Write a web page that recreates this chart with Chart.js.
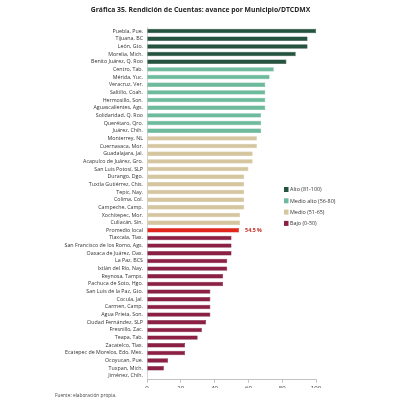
<!DOCTYPE html>
<html><head><meta charset="utf-8">
<script src="https://cdn.jsdelivr.net/npm/chart.js@4"></script>
<style>html,body{margin:0;padding:0;background:#fff}#wrap{width:400px;height:400px}</style>
</head><body><div id="wrap"><canvas id="c" width="400" height="400"></canvas></div>
<script>
const municipios = ["Puebla, Pue.","Tijuana, BC","León, Gto.","Morelia, Mich.","Benito Juárez, Q. Roo","Centro, Tab.","Mérida, Yuc.","Veracruz, Ver.","Saltillo, Coah.","Hermosillo, Son.","Aguascalientes, Ags.","Solidaridad, Q. Roo","Querétaro, Qro.","Juárez, Chih.","Monterrey, NL","Cuernavaca, Mor.","Guadalajara, Jal.","Acapulco de Juárez, Gro.","San Luis Potosí, SLP","Durango, Dgo.","Tuxtla Gutiérrez, Chis.","Tepic, Nay.","Colima, Col.","Campeche, Camp.","Xochitepec, Mor.","Culiacán, Sin.","Promedio local","Tlaxcala, Tlax.","San Francisco de los Romo, Ags.","Oaxaca de Juárez, Oax.","La Paz, BCS","Ixtlán del Río, Nay.","Reynosa, Tamps.","Pachuca de Soto, Hgo.","San Luis de la Paz, Gto.","Cocula, Jal.","Carmen, Camp.","Agua Prieta, Son.","Ciudad Fernández, SLP","Fresnillo, Zac.","Teapa, Tab.","Zacatelco, Tlax.","Ecatepec de Morelos, Edo. Mex.","Ocoyucan, Pue.","Tuxpan, Mich.","Jiménez, Chih."];
const avance = [100,95,95,88,82.5,75,72.5,70,70,70,70,67.5,67.5,67.5,65,65,62.5,62.5,60,57.5,57.5,57.5,57.5,57.5,55,55,54.5,50,50,50,47.5,47.5,45,45,37.5,37.5,37.5,37.5,35,32.5,30,22.5,22.5,12.5,10,0];
// 0 Alto, 1 Medio alto, 2 Medio, 3 Bajo, 4 Promedio
const nivel = [0,0,0,0,0,1,1,1,1,1,1,1,1,1,2,2,2,2,2,2,2,2,2,2,2,2,4,3,3,3,3,3,3,3,3,3,3,3,3,3,3,3,3,3,3,3];
const nivelesLeyenda = ["Alto (81-100)","Medio alto (56-80)","Medio (51-65)","Bajo (0-50)"];
const etiquetaPromedio = "54.5 %";
const xTicks = [0,20,40,60,80,100];
const titulo = "Gráfica 35. Rendición de Cuentas: avance por Municipio/DTCDMX";
const fuente = "Fuente: elaboración propia.";
const colores = ["#24533f","#6dbb9c","#d5c6a0","#8c1f44","#e3261d"];
const bordes = ["#183b2c","#58a487","#c9b98f","#6e1433","#c81d15"];

const FONT = "'Open Sans', 'Noto Sans', sans-serif";

const extras = {
  id: 'extras',
  afterDraw(chart) {
    const ctx = chart.ctx;
    const x = chart.scales.x, y = chart.scales.y;
    ctx.save();
    // title
    ctx.fillStyle = '#222';
    ctx.font = `bold 6.8px ${FONT}`;
    ctx.textAlign = 'center';
    ctx.textBaseline = 'middle';
    ctx.fillText(titulo, 200.5, 10);
    // legend
    const lx = 286, ly0 = 189.5, step = 11.3;
    nivelesLeyenda.forEach((t, i) => {
      const yy = ly0 + i * step;
      ctx.fillStyle = colores[i];
      ctx.fillRect(lx - 2, yy - 2.5, 4.5, 5);
      ctx.fillStyle = '#333';
      ctx.font = `5.4px ${FONT}`;
      ctx.textBaseline = 'middle';
      ctx.textAlign = 'left';
      ctx.fillText(t, lx + 4, yy + 0.3);
    });
    // promedio label
    const pi = nivel.indexOf(4);
    ctx.fillStyle = '#c8261d';
    ctx.font = `bold 5.3px ${FONT}`;
    ctx.textAlign = 'left';
    ctx.textBaseline = 'middle';
    ctx.fillText(etiquetaPromedio, x.getPixelForValue(avance[pi]) + 6, y.getPixelForValue(pi) + 0.3);
    // footnote
    ctx.fillStyle = '#444';
    ctx.font = `4.8px ${FONT}`;
    ctx.fillText(fuente, 55, 396);
    ctx.restore();
  }
};

new Chart(document.getElementById('c'), {
  type: 'bar',
  data: {
    labels: municipios,
    datasets: [{
      data: avance,
      backgroundColor: nivel.map(n => colores[n]),
      borderColor: nivel.map(n => bordes[n]),
      borderWidth: 0.5,
      categoryPercentage: 1,
      barPercentage: 0.58
    }]
  },
  options: {
    indexAxis: 'y',
    responsive: false,
    animation: false,
    devicePixelRatio: 1,
    layout: { padding: { top: 27.25, bottom: 12, left: 0, right: 84 } },
    plugins: {
      legend: { display: false },
      tooltip: { enabled: false },
      title: { display: false }
    },
    scales: {
      x: {
        min: 0, max: 100,
        afterBuildTicks: s => { s.ticks = xTicks.map(v => ({ value: v })); },
        afterFit: s => { s.height = 400 - 379.75 - 12; },
        grid: { display: true, drawOnChartArea: false, drawTicks: true, tickLength: 3, color: '#9a9a9a', lineWidth: 0.6 },
        border: { display: true, color: '#9a9a9a', width: 0.6 },
        ticks: { color: '#333', font: { family: FONT, size: 6 }, padding: 2, maxRotation: 0 }
      },
      y: {
        afterFit: s => { s.width = 147; },
        grid: { display: false, drawTicks: false },
        border: { display: true, color: '#bbbbbb', width: 0.6 },
        ticks: { color: '#333', font: { family: FONT, size: 5.3 }, padding: 4, autoSkip: false }
      }
    }
  },
  plugins: [extras]
});
</script></body></html>
